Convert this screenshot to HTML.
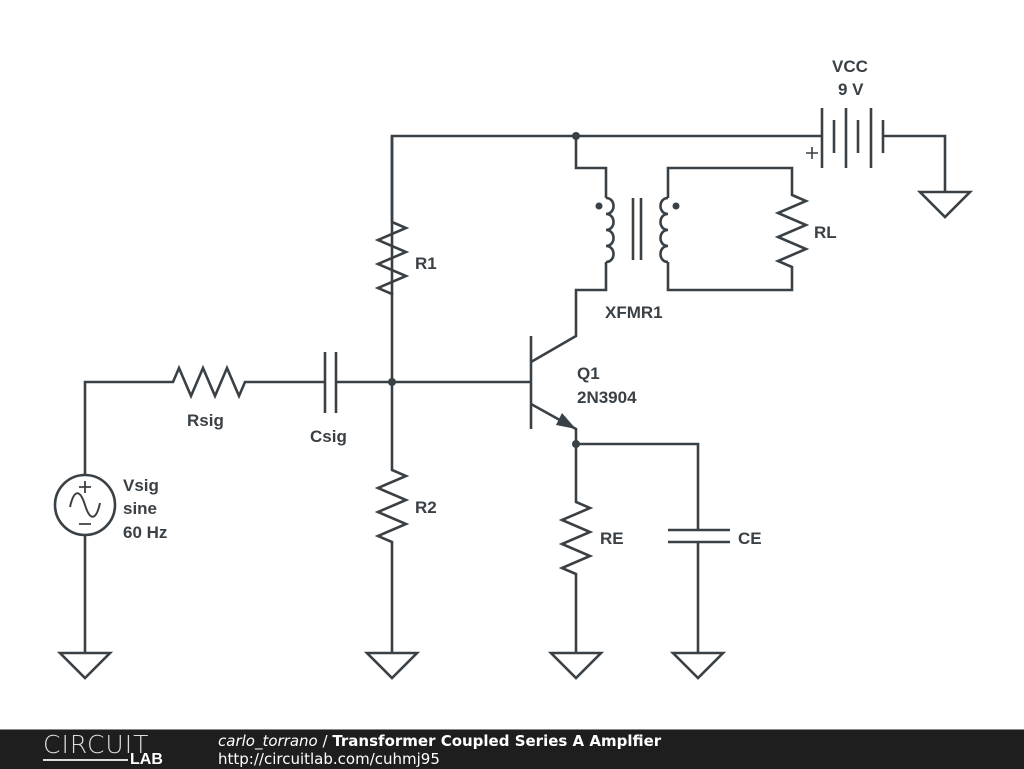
<!DOCTYPE html>
<html><head><style>
body{margin:0;width:1024px;height:768px;background:#fff;overflow:hidden;position:relative;font-family:"Liberation Sans",sans-serif}
svg text{font-family:"Liberation Sans",sans-serif;font-weight:bold;font-size:17px;fill:#3a4146}
#bar{position:absolute;left:0;top:729px;width:1024px;height:39px;background:#1e1e1e;border-top:1px solid #888}
</style></head><body>
<svg width="1024" height="729" style="position:absolute;left:0;top:0">
<g stroke="#3a4146" stroke-width="2.6" fill="none" stroke-linejoin="miter">
<!-- top rail -->
<path d="M392 295V136H822"/>
<path d="M392 222V136"/>
<!-- R1 -->
<path d="M392 222l14 6-28 12 28 12-28 12 28 12-28 12 14 6V382"/>
<!-- R2 -->
<path d="M392 382V470l14 6-28 12 28 12-28 12 28 12-28 12 14 6V653"/>
<!-- Vsig -->
<path d="M85 653V535M85 475V382H173l6 -14 12 28 12-28 12 28 12-28 12 28 6 -14H325M336 382H531"/>
<path d="M325 352V413M336 352V413"/>
<circle cx="85" cy="505" r="30"/>
<path d="M70 507c4-18 10-18 15-2s11 16 15-2" stroke-width="2"/>
<path d="M79 487h12M85 481v12M79 524h12" stroke-width="1.8"/>
<!-- transistor -->
<path d="M531 336V429M531 362L576 336V290H606V262M531 404L576 429V444"/>
<!-- transformer primary -->
<path d="M576 136V168H606V198"/>
<path d="M606 198c10 0 10 16 0 16c10 0 10 16 0 16c10 0 10 16 0 16c10 0 10 16 0 16"/>
<path d="M633 198V260M641 198V260"/>
<path d="M668 198c-10 0-10 16 0 16c-10 0-10 16 0 16c-10 0-10 16 0 16c-10 0-10 16 0 16"/>
<path d="M668 198V168H792V195l14 6-28 12 28 12-28 12 28 12-28 12 14 6V290H668V262"/>
<!-- battery -->
<path d="M822 108V168M834 120V153M846 108V168M858 120V153M871 108V168M883 120V153" />
<path d="M883 136H945V192"/>
<path d="M920 192h50l-25 25z"/>
<!-- emitter side -->
<path d="M576 444H698V530M668 530H730M668 542H730M698 542V653"/>
<path d="M576 444V502l14 6-28 12 28 12-28 12 28 12-28 12 14 6V653"/>
<!-- grounds -->
<path d="M60 653h50l-25 25zM367 653h50l-25 25zM551 653h50l-25 25zM673 653h50l-25 25z"/>
<path d="M806 153h12M812 147v12" stroke-width="1.6"/>
</g>
<g fill="#3a4146">
<circle cx="576" cy="136" r="4"/><circle cx="392" cy="382" r="4"/><circle cx="576" cy="444" r="4"/>
<circle cx="599" cy="206" r="3.5"/><circle cx="676" cy="206" r="3.5"/>
<path d="M576 429L556 425L562 413Z"/>
</g>
<text x="832" y="72">VCC</text><text x="838" y="95">9 V</text>
<text x="814" y="238">RL</text>
<text x="605" y="318">XFMR1</text>
<text x="577" y="379">Q1</text><text x="577" y="403">2N3904</text>
<text x="415" y="269">R1</text><text x="415" y="513">R2</text>
<text x="187" y="426">Rsig</text><text x="310" y="442">Csig</text>
<text x="123" y="491">Vsig</text><text x="123" y="514">sine</text><text x="123" y="538">60 Hz</text>
<text x="600" y="544">RE</text><text x="738" y="544">CE</text>
</svg>
<div id="bar">
<div style="position:absolute;left:43px;top:0px;color:#ddd;font-size:25px;letter-spacing:1px;font-family:'DejaVu Sans',sans-serif;font-weight:200">CIRCUIT</div>
<div style="position:absolute;left:130px;top:21px;color:#fff;font-size:16px;font-weight:bold">LAB</div>
<div style="position:absolute;left:43px;top:29px;width:85px;height:2px;background:#ddd"></div>
<div style="position:absolute;left:218px;top:2px;color:#fff;font-size:15px;font-family:'DejaVu Sans',sans-serif"><i>carlo_torrano</i> / <b>Transformer Coupled Series A Amplfier</b></div>
<div style="position:absolute;left:218px;top:20px;color:#fff;font-size:15px;font-family:'DejaVu Sans',sans-serif">http://circuitlab.com/cuhmj95</div>
</div>
</body></html>
